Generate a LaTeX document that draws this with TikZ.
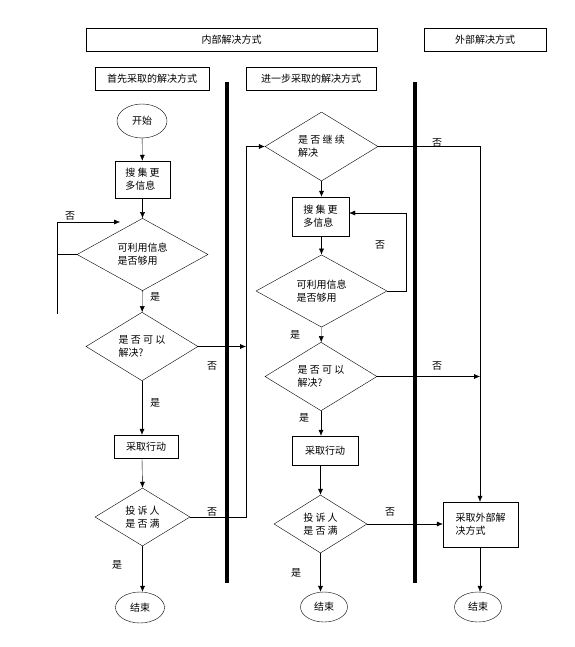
\documentclass[tikz,border=0pt]{standalone}
\usepackage{fontspec}
\setmainfont{Noto Sans CJK SC}
\usetikzlibrary{shapes.geometric,arrows.meta}
\tikzset{
  every node/.style={font=\fontsize{10}{13}\selectfont},
  box/.style={draw, thin, inner sep=1pt, align=left},
  dia/.style={draw, thin, diamond, inner sep=0pt, align=left},
  term/.style={draw, thin, ellipse, inner sep=0pt},
  lbl/.style={inner sep=0pt},
  conn/.style={thin},
  arr/.style={thin, -{Latex[length=6pt,width=5pt]}},
  lane/.style={line width=4pt}
}
\begin{document}
\begin{tikzpicture}[x=1pt,y=-1pt]
\useasboundingbox (0,0) rectangle (574,647);
% headers
\node[box, minimum width=291, minimum height=23] (h1) at (231.5,39.5) {内部解决方式};
\node[box, minimum width=122, minimum height=23] (h2) at (485,39.5) {外部解决方式};
\node[box, minimum width=114, minimum height=23] (h3) at (152,78.5) {首先采取的解决方式};
\node[box, minimum width=130, minimum height=23] (h4) at (311,78.5) {进一步采取的解决方式};
% lane lines
\coordinate (v1t) at (227,82); \coordinate (v1b) at (227,583);
\coordinate (v2t) at (415,82); \coordinate (v2b) at (415,583);
\draw[lane] (v1t) -- (v1b);
\draw[lane] (v2t) -- (v2b);
% left column
\node[term, minimum width=50, minimum height=34] (l1) at (142,121) {开始};
\node[box, minimum width=55, minimum height=37] (l2) at (142.5,179.5) {搜 集 更\\多信息};
\node[dia, minimum width=131, minimum height=65] (l3) at (142.5,254.5) {可利用信息\\是否够用};
\node[dia, minimum width=112, minimum height=59] (l4) at (142,346.5) {是 否 可 以\\解决?};
\node[box, minimum width=64, minimum height=23] (l5) at (146,446.5) {采取行动};
\node[dia, minimum width=95, minimum height=58] (l6) at (142.5,517) {投 诉 人\\是 否 满};
\node[term, minimum width=49, minimum height=31] (l7) at (140,607.5) {结束};
% middle column
\node[dia, minimum width=113, minimum height=59] (m1) at (321.5,146.5) {是 否 继 续\\解决};
\node[box, minimum width=57, minimum height=39] (m2) at (320.5,216.5) {搜 集 更\\多信息};
\node[dia, minimum width=131, minimum height=66] (m3) at (321.5,291) {可利用信息\\是否够用};
\node[dia, minimum width=112, minimum height=59] (m4) at (321,376.5) {是 否 可 以\\解决?};
\node[box, minimum width=66, minimum height=29] (m5) at (325,450.5) {采取行动};
\node[dia, minimum width=93, minimum height=58] (m6) at (320.5,524) {投 诉 人\\是 否 满};
\node[term, minimum width=47, minimum height=30] (m7) at (324,607) {结束};
% right column
\node[box, minimum width=75, minimum height=45] (r1) at (480.5,524.5) {采取外部解\\决方式};
\node[term, minimum width=47, minimum height=30] (r2) at (478,607) {结束};
% helper coordinates
\coordinate (la) at (57,314);
\coordinate (lb) at (57,222);
\coordinate (le) at (120,222);
\coordinate (jx) at (246,0);
\coordinate (rx) at (480,0);
\coordinate (mx) at (406,213);
% left connectors
\draw[arr] (l1) -- (l2);
\draw[arr] (l2) -- (l3);
\draw[arr] (l3) -- (l4);
\draw[conn] (l3.west) -- (l3.west -| lb);
\draw[arr] (la) -- (lb) -- (le);
\draw[arr] (l4) -- (l4.south |- l5.north);
\draw[arr] (l4.east) -- (l4.east -| jx);
\draw[arr] (l5.south -| l4.south) -- (l6.north);
\draw[arr] (l6.east) -- (l6.east -| jx) -- (m1.west -| jx) -- (m1.west);
\draw[arr] (l6.south) -- (l6.south |- l7.north);
% middle connectors
\draw[arr] (m1) -- (m1.south |- m2.north);
\draw[arr] (m1.east) -- (m1.east -| rx) -- (r1.north -| rx);
\draw[arr] (m2.south -| m1.south) -- (m3.north);
\draw[arr] (m3.east) -- (m3.east -| mx) -- (mx) -- (mx -| m2.east);
\draw[arr] (m3) -- (m4);
\draw[arr] (m4.east) -- (m4.east -| rx);
\draw[arr] (m4.south) -- (m4.south |- m5.north);
\draw[arr] (m5.south -| m6.north) -- (m6.north);
\draw[arr] (m6.east) -- (r1.west |- m6.east);
\draw[arr] (m6.south) -- (m6.south |- m7.north);
\draw[arr] (r1.south -| rx) -- (r2.north -| rx);
% labels
\node[lbl] (t1) at (70,216) {否};
\node[lbl] (t2) at (155,297) {是};
\node[lbl] (t3) at (212,366) {否};
\node[lbl] (t4) at (155,403) {是};
\node[lbl] (t5) at (212,512) {否};
\node[lbl] (t6) at (117,565) {是};
\node[lbl] (t7) at (437,143) {否};
\node[lbl] (t8) at (380,245) {否};
\node[lbl] (t9) at (295,335) {是};
\node[lbl] (t10) at (437,366) {否};
\node[lbl] (t11) at (304,418) {是};
\node[lbl] (t12) at (390,512) {否};
\node[lbl] (t13) at (296,573) {是};
\end{tikzpicture}
\end{document}
